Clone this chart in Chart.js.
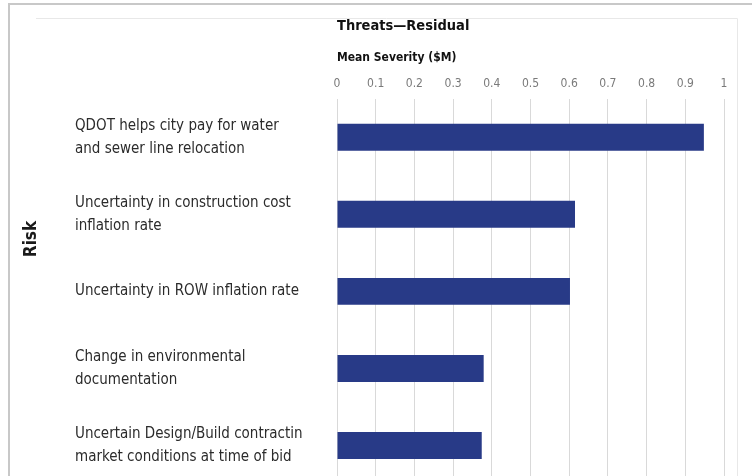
<!DOCTYPE html>
<html>
<head>
<meta charset="utf-8">
<script src="https://cdn.jsdelivr.net/npm/chart.js@4/dist/chart.umd.min.js"></script>
<style>
    html, body { margin: 0; padding: 0; width: 752px; height: 476px; overflow: hidden; background: #fff; }
    canvas { display: block; }
</style>
</head>
<body>
<canvas id="chart-threats" width="752" height="510"></canvas>
<script>
(function () {
    'use strict';

    var riskLabels = [
        ['QDOT helps city pay for water', 'and sewer line relocation'],
        ['Uncertainty in construction cost', 'inflation rate'],
        'Uncertainty in ROW inflation rate',
        ['Change in environmental', 'documentation'],
        ['Uncertain Design/Build contractin', 'market conditions at time of bid']
    ];
    var meanSeverity = [0.948, 0.615, 0.602, 0.379, 0.374];
    var axisMin = 0;
    var axisMax = 1;
    var axisStep = 0.1;

    var FONT = '"Liberation Sans Narrow", "DejaVu Sans Condensed", "Roboto", sans-serif';

    // frame lines and the rotated "Risk" title
    var decorPlugin = {
        id: 'decor',
        beforeDraw: function (chart) {
            var ctx = chart.ctx;
            ctx.save();
            ctx.strokeStyle = '#c8c8c8';
            ctx.lineWidth = 2;
            ctx.beginPath();
            ctx.moveTo(9, chart.height);
            ctx.lineTo(9, 4);
            ctx.lineTo(chart.width, 4);
            ctx.stroke();
            ctx.strokeStyle = '#e8e8e8';
            ctx.lineWidth = 1;
            ctx.beginPath();
            ctx.moveTo(36, 18.5);
            ctx.lineTo(737.5, 18.5);
            ctx.lineTo(737.5, chart.height);
            ctx.stroke();
            ctx.restore();
        },
        afterDraw: function (chart) {
            var ctx = chart.ctx;
            ctx.save();
            ctx.translate(32, 239);
            ctx.rotate(-Math.PI / 2);
            ctx.font = 'bold 17px ' + FONT;
            ctx.fillStyle = '#1a1a1a';
            ctx.textAlign = 'center';
            ctx.textBaseline = 'middle';
            ctx.fillText('Risk', 0, 0);
            ctx.restore();
        }
    };

    new Chart(document.getElementById('chart-threats').getContext('2d'), {
        type: 'bar',
        data: {
            labels: riskLabels,
            datasets: [{
                label: 'Mean Severity ($M)',
                data: meanSeverity,
                backgroundColor: '#283a87',
                borderWidth: 0,
                categoryPercentage: 1,
                barPercentage: 0.35
            }]
        },
        options: {
            indexAxis: 'y',
            responsive: false,
            animation: false,
            layout: { padding: { top: 0, left: 75, right: 28, bottom: 0 } },
            plugins: {
                legend: { display: false },
                tooltip: { enabled: false },
                title: {
                    display: true,
                    text: 'Threats\u2014Residual',
                    align: 'start',
                    fullSize: false,
                    color: '#111',
                    font: { family: FONT, size: 14.5, weight: 'bold' },
                    padding: { top: 17.5, bottom: 16 }
                }
            },
            scales: {
                x: {
                    position: 'top',
                    min: axisMin,
                    max: axisMax,
                    border: { display: false },
                    grid: { color: '#d9d9d9', lineWidth: 1, drawTicks: false },
                    ticks: {
                        stepSize: axisStep,
                        padding: 8,
                        color: '#7a7a7a',
                        font: { family: FONT, size: 12 },
                        callback: function (v) {
                            return String(Number(v.toFixed(1)));
                        }
                    },
                    title: {
                        display: true,
                        text: 'Mean Severity ($M)',
                        align: 'start',
                        color: '#111',
                        font: { family: FONT, size: 12, weight: 'bold' },
                        padding: { top: 0, bottom: 3 }
                    }
                },
                y: {
                    border: { display: false },
                    grid: { display: false },
                    ticks: {
                        crossAlign: 'far',
                        color: '#2b2b2b',
                        font: { family: FONT, size: 15, lineHeight: 1.53 }
                    },
                    afterFit: function (scale) {
                        scale.width = 262;
                    }
                }
            }
        },
        plugins: [decorPlugin]
    });
})();
</script>
</body>
</html>
